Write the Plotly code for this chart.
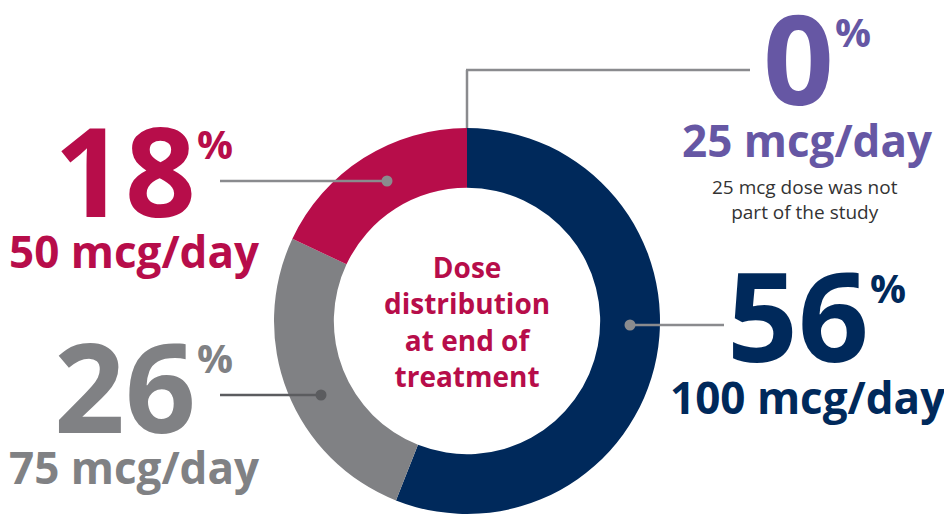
import plotly.graph_objects as go

# ---- data ----
doses = ["100 mcg/day", "75 mcg/day", "50 mcg/day", "25 mcg/day"]
shares = [56, 26, 18, 0]
colors = ["#00295B", "#808184", "#B70D4A", "#6657A4"]
center_lines = ["Dose", "distribution", "at end of", "treatment"]
note_lines = ["25 mcg dose was not", "part of the study"]

W, H = 944, 514
CX, CY, R = 467, 321, 193  # donut centre / radius in pixels
FONT = "Open Sans"

fig = go.Figure()
fig.add_trace(go.Pie(
    labels=doses, values=shares, marker=dict(colors=colors, line=dict(width=0)),
    hole=0.69, sort=False, direction="clockwise", rotation=0,
    textinfo="none", hoverinfo="label+percent", showlegend=False,
    domain=dict(x=[(CX - R) / W, (CX + R) / W], y=[(H - CY - R) / H, (H - CY + R) / H]),
))

# invisible pixel-space axes for overlays
fig.add_trace(go.Scatter(x=[0, W], y=[0, H], mode="markers", marker=dict(opacity=0),
                         hoverinfo="skip", showlegend=False))

LINE = "#8A8B8E"
DARK = "#5B5C5F"
shapes = []
def seg(x0, y0, x1, y1, c=LINE):
    shapes.append(dict(type="line", x0=x0, y0=y0, x1=x1, y1=y1, xref="x", yref="y",
                       line=dict(color=c, width=2.5)))
def dot(x, y, c=LINE):
    shapes.append(dict(type="circle", x0=x - 5.5, y0=y - 5.5, x1=x + 5.5, y1=y + 5.5,
                       xref="x", yref="y", fillcolor=c, line=dict(width=0)))

seg(220, 181, 387, 181); dot(387, 181)
seg(220, 395, 321, 395, DARK); dot(321, 395, DARK)
seg(630, 325, 724, 325); dot(630, 325)
seg(467, 128, 467, 70); seg(466, 70, 750, 70)

ann = []
def txt(x, y, s, size, color, xa="center", ya="middle", weight="bold", fam=FONT):
    ann.append(dict(x=x, y=y, xref="x", yref="y", text=s, showarrow=False,
                    xanchor=xa, yanchor=ya,
                    font=dict(family=fam, size=size, color=color, weight=weight)))

BIG = 124
SUP = 40
MID = 44
# 18% 50 mcg/day
txt(198, 168, str(shares[2]), BIG, colors[2], xa="right")
txt(195, 143, "%", SUP, colors[2], xa="left")
txt(134, 251, doses[2], MID, colors[2])
# 26% 75 mcg/day
txt(198, 384, str(shares[1]), BIG, colors[1], xa="right")
txt(195, 357, "%", SUP, colors[1], xa="left")
txt(134, 467, doses[1], MID, colors[1])
# 56% 100 mcg/day
txt(871, 313, str(shares[0]), BIG, colors[0], xa="right")
txt(868, 287, "%", SUP, colors[0], xa="left")
txt(808, 397, doses[0], MID, colors[0])
# 0% 25 mcg/day
txt(836, 56, str(shares[3]), BIG, colors[3], xa="right")
txt(833, 31, "%", SUP, colors[3], xa="left")
txt(807, 140, doses[3], MID, colors[3])
txt(805, 199, "<br>".join(note_lines), 19, "#333333", weight="normal")
# centre label
txt(CX, CY, "<br>".join(center_lines), 28, colors[2])

fig.update_layout(
    width=W, height=H, margin=dict(l=0, r=0, t=0, b=0),
    paper_bgcolor="white", plot_bgcolor="rgba(0,0,0,0)",
    xaxis=dict(range=[0, W], visible=False, fixedrange=True),
    yaxis=dict(range=[H, 0], visible=False, fixedrange=True),
    shapes=shapes, annotations=ann,
)
fig.write_html("out.html", config={"displayModeBar": False},
               post_script="document.body.style.margin='0';document.body.style.overflow='hidden';")
